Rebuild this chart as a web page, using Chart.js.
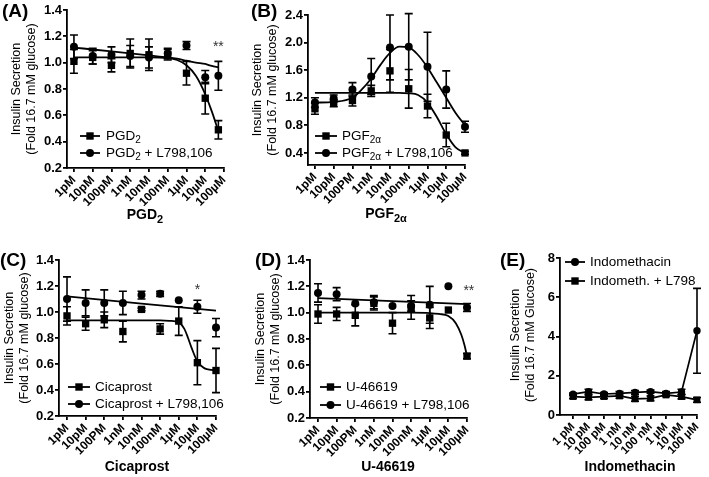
<!DOCTYPE html>
<html>
<head>
<meta charset="utf-8">
<script src="https://cdn.jsdelivr.net/npm/chart.js@4.4.1/dist/chart.umd.min.js"></script>
<style>
  html, body { margin: 0; padding: 0; background: #fff; }
  #wrap { position: relative; width: 709px; height: 477px; }
  #wrap canvas { position: absolute; left: 0; top: 0; }
</style>
</head>
<body>
<div id="wrap">
  <canvas id="panelA" width="709" height="477"></canvas>
  <canvas id="panelB" width="709" height="477"></canvas>
  <canvas id="panelC" width="709" height="477"></canvas>
  <canvas id="panelD" width="709" height="477"></canvas>
  <canvas id="panelE" width="709" height="477"></canvas>
</div>
<script>
// dose axis: log10 of molar concentration
const doseTicks = [-12, -11, -10, -9, -8, -7, -6, -5, -4];
const labelsA = ["1pM", "10pM", "100pM", "1nM", "10nM", "100nM", "1µM", "10µM", "100µM"];
const labelsBCD = ["1pM", "10pM", "100PM", "1nM", "10nM", "100nM", "1µM", "10µM", "100µM"];
const labelsE = ["1 pM", "10 pM", "100 pM", "1 nM", "10 nM", "100 nM", "1 µM", "10 µM", "100 µM"];

const doses = [-12, -11, -10, -9, -8, -7, -6, -5, -4];
const dosesA = [-12, -11, -10, -9, -8, -7, -6, -5, -4.3];

// (A) PGD2
const pgd2 = [1.01, 1.04, 0.98, 1.07, 1.06, 1.06, 0.92, 0.73, 0.49];
const pgd2Err = [0.09, 0.05, 0.05, 0.11, 0.12, 0.04, 0.09, 0.12, 0.07];
const pgd2L = [1.12, 1.05, 1.06, 1.05, 1.04, 1.07, 1.13, 0.89, 0.90];
const pgd2LErr = [0.09, 0.06, 0.06, 0.08, 0.08, 0.04, 0.03, 0.05, 0.11];
const pgd2FitX = [-12, -11, -10, -9, -8, -7, -6.5, -6, -5.5, -5, -4.65, -4.3];
const pgd2Fit = [1.04, 1.04, 1.04, 1.04, 1.04, 1.035, 1.02, 0.98, 0.90, 0.76, 0.63, 0.48];
const pgd2LFit = [1.115, 1.10, 1.085, 1.07, 1.055, 1.04, 1.03, 1.015, 1.0, 0.99, 0.975, 0.965];

// (B) PGF2a
const pgf = [1.04, 1.12, 1.16, 1.30, 1.59, 1.33, 1.08, 0.66, 0.40];
const pgfErr = [0.08, 0.05, 0.08, 0.08, 0.31, 0.28, 0.17, 0.17, 0.02];
const pgfL = [1.13, 1.19, 1.32, 1.51, 1.93, 1.94, 1.65, 1.32, 0.78];
const pgfLErr = [0.07, 0.05, 0.10, 0.26, 0.47, 0.48, 0.50, 0.27, 0.08];
const pgfFitX = [-12, -11, -10, -9.5, -9, -8.5, -8, -7.5, -7, -6.5, -6, -5.5, -5, -4.5, -4];
const pgfFit = [1.27, 1.27, 1.27, 1.27, 1.27, 1.27, 1.27, 1.27, 1.265, 1.24, 1.13, 0.92, 0.67, 0.48, 0.40];
const pgfLFit = [1.13, 1.14, 1.20, 1.32, 1.48, 1.68, 1.85, 1.94, 1.93, 1.82, 1.64, 1.42, 1.20, 0.98, 0.80];

// (C) Cicaprost
const cica = [0.97, 0.91, 0.94, 0.85, 1.02, 0.87, 0.93, 0.61, 0.55];
const cicaErr = [0.07, 0.05, 0.06, 0.08, 0.01, 0.04, 0.11, 0.17, 0.17];
const cicaL = [1.10, 1.07, 1.07, 1.07, 1.13, 1.14, 1.09, 1.04, 0.88];
const cicaLErr = [0.17, 0.10, 0.10, 0.09, 0.03, 0.02, 0, 0.05, 0.07];
const cicaFitX = [-12, -11, -10, -9, -8, -7, -6.5, -6, -5.7, -5.5, -5.3, -5, -4.7, -4.5, -4];
const cicaFit = [0.935, 0.935, 0.935, 0.935, 0.935, 0.935, 0.932, 0.92, 0.87, 0.80, 0.72, 0.62, 0.575, 0.56, 0.55];
const cicaLFitX = [-12, -8, -4];
const cicaLFit = [1.12, 1.065, 1.01];

// (D) U-46619
const u46 = [0.99, 0.99, 0.98, 1.07, 0.92, 1.04, 0.96, 1.02, 0.67];
const u46Err = [0.07, 0.05, 0.08, 0.05, 0.08, 0.09, 0.08, 0, 0.02];
const u46L = [1.15, 1.14, 1.07, 1.08, 1.05, 1.05, 1.06, 1.20, 1.04];
const u46LErr = [0.07, 0.05, 0, 0.05, 0, 0.04, 0.14, 0, 0.03];
const u46FitX = [-12, -9, -7, -6, -5.5, -5, -4.6, -4.3, -4.13, -4];
const u46Fit = [1.0, 1.0, 1.0, 0.997, 0.99, 0.975, 0.92, 0.83, 0.75, 0.67];
const u46LFitX = [-12, -8, -4];
const u46LFit = [1.11, 1.087, 1.065];

// (E) Indomethacin
const indo = [1.06, 1.19, 1.07, 1.10, 1.15, 1.19, 1.10, 1.17, 4.29];
const indoErr = [0.06, 0.12, 0.07, 0.10, 0.10, 0.08, 0.10, 0.14, 2.16];
const indoL = [0.94, 0.90, 0.94, 0.97, 0.82, 0.85, 1.02, 0.94, 0.77];
const indoLErr = [0.10, 0.12, 0.10, 0.12, 0.12, 0.12, 0.08, 0.12, 0.12];

const FONT = '"Liberation Sans", Arial, Helvetica, sans-serif';
const Y_AXIS_W = 45;
const X_AXIS_H = 50;

const pts = (xs, ys) => xs.map((x, i) => ({ x, y: ys[i] }));

const markers = (xs, ys, errs, style) => ({
  data: pts(xs, ys),
  errors: errs,
  pointStyle: style,
  pointRadius: style === "rect" ? 5.2 : 4,
  pointBackgroundColor: "#000",
  pointBorderColor: "#000",
  pointBorderWidth: 0,
  showLine: false,
  clip: false
});

const fitLine = (xs, ys) => ({
  data: pts(xs, ys),
  showLine: true,
  pointRadius: 0,
  borderColor: "#000",
  borderWidth: 1.8,
  cubicInterpolationMode: "monotone",
  clip: false
});

const joined = (xs, ys, errs, style) => ({
  ...markers(xs, ys, errs, style),
  pointRadius: style === "rect" ? 4.8 : 3.7,
  showLine: true,
  borderColor: "#000",
  borderWidth: 1.7,
  tension: 0
});

const drawMarker = (ctx, style, x, y) => {
  ctx.beginPath();
  if (style === "rect") {
    ctx.rect(x - 3.7, y - 3.7, 7.4, 7.4);
  } else {
    ctx.arc(x, y, 4, 0, Math.PI * 2);
  }
  ctx.fill();
};

// text with _{...} subscripts
const drawRich = (ctx, str, x, y, size, weight, align) => {
  const parts = [];
  str.split(/(_\{[^}]*\})/).forEach((p) => {
    if (!p) return;
    if (p.startsWith("_{")) parts.push({ t: p.slice(2, -1), sub: true });
    else parts.push({ t: p, sub: false });
  });
  const subSize = Math.round(size * 0.75);
  const fontFor = (p) => `${weight} ${p.sub ? subSize : size}px ${FONT}`;
  let total = 0;
  parts.forEach((p) => {
    ctx.font = fontFor(p);
    p.w = ctx.measureText(p.t).width;
    total += p.w;
  });
  let cx = align === "center" ? x - total / 2 : x;
  ctx.textAlign = "left";
  ctx.textBaseline = "middle";
  parts.forEach((p) => {
    ctx.font = fontFor(p);
    ctx.fillText(p.t, cx, p.sub ? y + size * 0.32 : y);
    cx += p.w;
  });
};

const errorBars = {
  id: "errorBars",
  beforeDatasetsDraw(chart) {
    const { ctx, scales } = chart;
    ctx.save();
    ctx.strokeStyle = "#000";
    ctx.lineWidth = 1.6;
    chart.data.datasets.forEach((ds) => {
      if (!ds.errors) return;
      ds.data.forEach((p, i) => {
        const e = ds.errors[i];
        if (!e) return;
        const x = scales.x.getPixelForValue(p.x);
        const y1 = scales.y.getPixelForValue(p.y + e);
        const y2 = scales.y.getPixelForValue(p.y - e);
        ctx.beginPath();
        ctx.moveTo(x, y1);
        ctx.lineTo(x, y2);
        ctx.moveTo(x - 4, y1);
        ctx.lineTo(x + 4, y1);
        ctx.moveTo(x - 4, y2);
        ctx.lineTo(x + 4, y2);
        ctx.stroke();
      });
    });
    ctx.restore();
  }
};

const panelText = {
  id: "panelText",
  afterDraw(chart, args, opts) {
    const { ctx, scales } = chart;
    ctx.save();
    ctx.fillStyle = "#000";
    ctx.strokeStyle = "#000";

    // panel letter
    drawRich(ctx, opts.letter, opts.letterPos[0], opts.letterPos[1], 19, "bold", "left");

    // y title, two rotated lines
    ctx.save();
    ctx.translate(opts.yTitlePos[0], opts.yTitlePos[1]);
    ctx.rotate(-Math.PI / 2);
    ctx.font = `12.5px ${FONT}`;
    ctx.textAlign = "center";
    ctx.textBaseline = "middle";
    ctx.fillText(opts.yTitle[0], 0, -7.5);
    ctx.fillText(opts.yTitle[1], 0, 7.5);
    ctx.restore();

    // x title
    drawRich(ctx, opts.xTitle, opts.xTitlePos[0], opts.xTitlePos[1], 14, "bold", "center");

    // legend
    const lg = opts.legend;
    lg.rows.forEach((row, i) => {
      const y = lg.ys[i];
      ctx.lineWidth = 1.8;
      ctx.beginPath();
      ctx.moveTo(lg.x0, y);
      ctx.lineTo(lg.x1, y);
      ctx.stroke();
      drawMarker(ctx, row.style, (lg.x0 + lg.x1) / 2, y);
      drawRich(ctx, row.label, lg.tx, y, 13.5, "normal", "left");
    });

    // significance marks
    (opts.stars || []).forEach((s) => {
      ctx.font = `14px ${FONT}`;
      ctx.textAlign = "center";
      ctx.textBaseline = "middle";
      ctx.fillStyle = "#333";
      ctx.fillText(s.t, scales.x.getPixelForValue(s.x), scales.y.getPixelForValue(s.y));
    });
    ctx.restore();
  }
};

const makePanel = (id, cfg) => {
  const b = cfg.box;
  return new Chart(document.getElementById(id), {
    type: "scatter",
    data: { datasets: cfg.datasets },
    options: {
      responsive: false,
      animation: false,
      devicePixelRatio: 1,
      events: [],
      layout: {
        padding: {
          left: b.left - Y_AXIS_W,
          top: b.top,
          right: 709 - b.right,
          bottom: 477 - b.bottom - X_AXIS_H
        }
      },
      plugins: {
        legend: { display: false },
        tooltip: { enabled: false },
        panelText: cfg.text
      },
      scales: {
        x: {
          type: "linear",
          min: cfg.xMin,
          max: -4,
          afterBuildTicks: (s) => { s.ticks = doseTicks.map((v) => ({ value: v })); },
          afterFit: (s) => { s.height = X_AXIS_H; },
          ticks: {
            autoSkip: false,
            minRotation: 45,
            maxRotation: 45,
            padding: 1,
            color: "#000",
            font: { family: FONT, size: cfg.xTickSize || 12, weight: "bold" },
            callback: (v, i) => cfg.xLabels[i]
          },
          grid: { drawOnChartArea: false, color: "#000", lineWidth: 1.8, tickLength: 4 },
          border: { color: "#000", width: 1.8 }
        },
        y: {
          min: cfg.yMin,
          max: cfg.yMax,
          afterBuildTicks: (s) => { s.ticks = cfg.yTicks.map((v) => ({ value: v })); },
          afterFit: (s) => { s.width = Y_AXIS_W; },
          ticks: {
            padding: 1,
            color: "#000",
            font: { family: FONT, size: 13, weight: "bold" },
            callback: (v) => v.toFixed(cfg.yDec)
          },
          grid: { drawOnChartArea: false, color: "#000", lineWidth: 1.8, tickLength: 4 },
          border: { color: "#000", width: 1.8 }
        }
      }
    },
    plugins: [errorBars, panelText]
  });
};

const yTicksFine = [0.2, 0.4, 0.6, 0.8, 1.0, 1.2, 1.4];
const yTicksB = [0.4, 0.8, 1.2, 1.6, 2.0, 2.4];
const yTicksE = [0, 2, 4, 6, 8];
const yTitle = ["Insulin Secretion", "(Fold 16.7 mM glucose)"];
const yTitleE = ["Insulin Secretion", "(Fold 16.7 mM Glucose)"];

makePanel("panelA", {
  box: { left: 67, top: 10, right: 224, bottom: 168 },
  xMin: -12.37, yMin: 0.2, yMax: 1.4, yTicks: yTicksFine, yDec: 1, xLabels: labelsA,
  datasets: [
    fitLine(pgd2FitX, pgd2Fit),
    fitLine(pgd2FitX, pgd2LFit),
    markers(dosesA, pgd2, pgd2Err, "rect"),
    markers(dosesA, pgd2L, pgd2LErr, "circle")
  ],
  text: {
    letter: "(A)", letterPos: [2, 12],
    yTitle: yTitle, yTitlePos: [24, 89],
    xTitle: "PGD_{2}", xTitlePos: [145, 215],
    legend: { x0: 80, x1: 100, tx: 106, ys: [136, 153],
      rows: [{ label: "PGD_{2}", style: "rect" }, { label: "PGD_{2} + L798,106", style: "circle" }] },
    stars: [{ x: -4.3, y: 1.12, t: "**" }]
  }
});

makePanel("panelB", {
  box: { left: 308, top: 15, right: 465, bottom: 165 },
  xMin: -12.37, yMin: 0.225, yMax: 2.4, yTicks: yTicksB, yDec: 1, xLabels: labelsBCD,
  datasets: [
    fitLine(pgfFitX, pgfFit),
    fitLine(pgfFitX, pgfLFit),
    markers(doses, pgf, pgfErr, "rect"),
    markers(doses, pgfL, pgfLErr, "circle")
  ],
  text: {
    letter: "(B)", letterPos: [251, 12],
    yTitle: yTitle, yTitlePos: [265, 90],
    xTitle: "PGF_{2α}", xTitlePos: [386, 214],
    legend: { x0: 315, x1: 337, tx: 342, ys: [136, 153],
      rows: [{ label: "PGF_{2α}", style: "rect" }, { label: "PGF_{2α} + L798,106", style: "circle" }] }
  }
});

makePanel("panelC", {
  box: { left: 59, top: 260, right: 216, bottom: 416 },
  xMin: -12.43, yMin: 0.2, yMax: 1.4, yTicks: yTicksFine, yDec: 1, xLabels: labelsBCD,
  datasets: [
    fitLine(cicaFitX, cicaFit),
    fitLine(cicaLFitX, cicaLFit),
    markers(doses, cica, cicaErr, "rect"),
    markers(doses, cicaL, cicaLErr, "circle")
  ],
  text: {
    letter: "(C)", letterPos: [0, 261],
    yTitle: yTitle, yTitlePos: [17, 338],
    xTitle: "Cicaprost", xTitlePos: [137, 467],
    legend: { x0: 68, x1: 90, tx: 95, ys: [387, 404],
      rows: [{ label: "Cicaprost", style: "rect" }, { label: "Cicaprost + L798,106", style: "circle" }] },
    stars: [{ x: -5, y: 1.17, t: "*" }]
  }
});

makePanel("panelD", {
  box: { left: 310, top: 260, right: 467, bottom: 418 },
  xMin: -12.43, yMin: 0.2, yMax: 1.4, yTicks: yTicksFine, yDec: 1, xLabels: labelsBCD,
  datasets: [
    fitLine(u46FitX, u46Fit),
    fitLine(u46LFitX, u46LFit),
    markers(doses, u46, u46Err, "rect"),
    markers(doses, u46L, u46LErr, "circle")
  ],
  text: {
    letter: "(D)", letterPos: [255, 261],
    yTitle: yTitle, yTitlePos: [268, 339],
    xTitle: "U-46619", xTitlePos: [388, 467],
    legend: { x0: 320, x1: 341, tx: 346, ys: [387, 405],
      rows: [{ label: "U-46619", style: "rect" }, { label: "U-46619 + L798,106", style: "circle" }] },
    stars: [{ x: -3.9, y: 1.16, t: "**" }]
  }
});

makePanel("panelE", {
  box: { left: 560, top: 258, right: 697, bottom: 415 },
  xMin: -12.84, yMin: 0, yMax: 8, yTicks: yTicksE, yDec: 0, xLabels: labelsE, xTickSize: 11.5,
  datasets: [
    joined(doses, indo, indoErr, "circle"),
    joined(doses, indoL, indoLErr, "rect")
  ],
  text: {
    letter: "(E)", letterPos: [500, 261],
    yTitle: yTitleE, yTitlePos: [523, 335],
    xTitle: "Indomethacin", xTitlePos: [630, 467],
    legend: { x0: 565, x1: 585, tx: 590, ys: [262, 281],
      rows: [{ label: "Indomethacin", style: "circle" }, { label: "Indometh. + L798", style: "rect" }] }
  }
});
</script>
</body>
</html>
